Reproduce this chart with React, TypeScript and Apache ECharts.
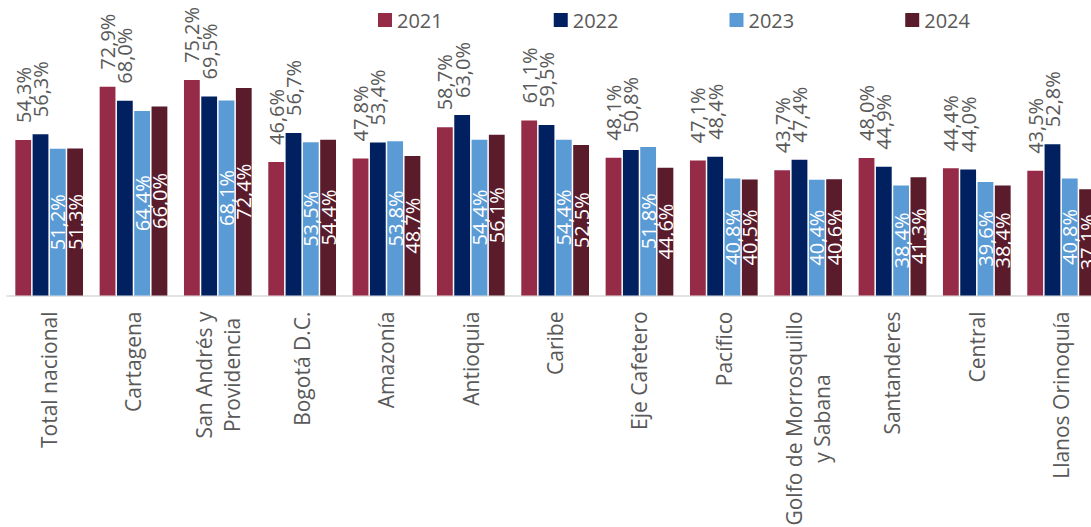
import React, { useEffect, useRef } from "react";
import * as echarts from "echarts";

const categories = [
  "Total nacional",
  "Cartagena",
  "San Andrés y\nProvidencia",
  "Bogotá D.C.",
  "Amazonía",
  "Antioquia",
  "Caribe",
  "Eje Cafetero",
  "Pacífico",
  "Golfo de Morrosquillo\ny Sabana",
  "Santanderes",
  "Central",
  "Llanos Orinoquía",
];

const years = ["2021", "2022", "2023", "2024"];

const values2021 = [54.3, 72.9, 75.2, 46.6, 47.8, 58.7, 61.1, 48.1, 47.1, 43.7, 48.0, 44.4, 43.5];
const values2022 = [56.3, 68.0, 69.5, 56.7, 53.4, 63.0, 59.5, 50.8, 48.4, 47.4, 44.9, 44.0, 52.8];
const values2023 = [51.2, 64.4, 68.1, 53.5, 53.8, 54.4, 54.4, 51.8, 40.8, 40.4, 38.4, 39.6, 40.8];
const values2024 = [51.3, 66.0, 72.4, 54.4, 48.7, 56.1, 52.5, 44.6, 40.5, 40.6, 41.3, 38.4, 37.1];

const colors = ["#952B47", "#002060", "#5B9BD5", "#5A1B2B"];

const FONT = "'Open Sans', 'Noto Sans', sans-serif";
const GREY = "#595959";

const fmt = (p: any) => (p.value as number).toFixed(1).replace(".", ",") + "%";

export default function App() {
  const ref = useRef<HTMLDivElement>(null);
  useEffect(() => {
    if (!ref.current) return;
    const chart = echarts.init(ref.current, null, { renderer: "svg" });
    const topLabel = {
      show: true,
      position: "top",
      rotate: 90,
      align: "left",
      verticalAlign: "middle",
      distance: 17,
      color: GREY,
      fontSize: 20,
      fontFamily: FONT,
      formatter: fmt,
    };
    const insideLabel = {
      show: true,
      position: "inside",
      rotate: 90,
      align: "center",
      verticalAlign: "middle",
      color: "#ffffff",
      fontSize: 20,
      fontFamily: FONT,
      formatter: fmt,
    };
    const seriesData = [values2021, values2022, values2023, values2024];
    chart.setOption({
      animation: false,
      legend: {
        data: years,
        left: 373,
        top: 5,
        icon: "rect",
        itemWidth: 14,
        itemHeight: 14,
        itemGap: 111,
        textStyle: { fontSize: 20, color: GREY, fontFamily: FONT },
      },
      grid: {
        left: 7,
        top: 9,
        width: 1096.3,
        height: 286.5,
        containLabel: false,
        outerBoundsMode: "none",
      },
      xAxis: {
        type: "category",
        data: categories,
        axisTick: { show: false },
        axisLine: { lineStyle: { color: "#d9d9d9", width: 1.5 } },
        axisLabel: {
          interval: 0,
          rotate: 90,
          margin: 16,
          formatter: (v: string) =>
            v
              .split("\n")
              .map((l) => `{c|${l}}`)
              .join("\n"),
          rich: {
            c: {
              align: "center",
              fontSize: 21,
              lineHeight: 28,
              color: GREY,
              fontFamily: FONT,
            },
          },
        },
      },
      yAxis: {
        type: "value",
        min: 0,
        max: 100,
        show: false,
        splitLine: { show: false },
      },
      series: seriesData.map((d, i) => ({
        name: years[i],
        type: "bar",
        data: d,
        barWidth: 15.8,
        barGap: "9.5%",
        itemStyle: { color: colors[i] },
        label: i < 2 ? topLabel : insideLabel,
      })),
    });
    return () => chart.dispose();
  }, []);
  return (
    <div
      ref={ref}
      style={{ position: "fixed", left: 0, top: 0, width: 1091, height: 527, background: "#fff" }}
    />
  );
}
